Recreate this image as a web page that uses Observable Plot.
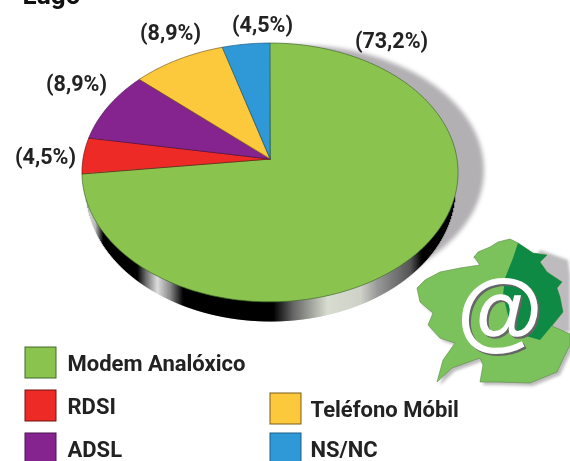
<!DOCTYPE html>
<html>
<head>
<meta charset="utf-8">
<script src="https://cdn.jsdelivr.net/npm/d3@7"></script>
<script src="https://cdn.jsdelivr.net/npm/@observablehq/plot@0.6"></script>
<style>
html,body{margin:0;padding:0;background:#fff;overflow:hidden}
svg{display:block}
</style>
</head>
<body>
<script>
const title = "Lugo";
const categories = ["Modem Analóxico", "RDSI", "ADSL", "Teléfono Móbil", "NS/NC"];
const values = [73.2, 4.5, 8.9, 8.9, 4.5];
const valueLabels = ["(73,2%)", "(4,5%)", "(8,9%)", "(8,9%)", "(4,5%)"];
const colors = ["#8bc34f", "#ee2a26", "#85248f", "#fcc83c", "#2f98d6"];
const edgeColors = ["#3f6a2a", "#6e1512", "#4d1254", "#7a5c1a", "#1d5d85"];

// layout
const labelX = [391, 45, 76, 170, 262];
const labelY = [41, 157, 84, 33, 25];
const legendX = [25, 25, 25, 270, 270];
const legendY = [347, 390, 433, 393, 433];
const boxSize = 31;

// pie geometry: circle seen in perspective, apex is the projected centre
const apex = [270, 159], sx = 187, sy = 128, persp = -0.104;
function project(X, Y) {
  const w = 1 + persp * Y;
  return [apex[0] + sx * X / w, apex[1] + sy * Y / w];
}
let start = 0;
const slicePts = [];
values.forEach((v, i) => {
  const a0 = start, a1 = start + v / d3.sum(values) * 2 * Math.PI;
  start = a1;
  const n = Math.max(6, Math.ceil((a1 - a0) * 60));
  for (let k = 0; k <= n; k++) {
    const a = a0 + (a1 - a0) * k / n;
    const [px, py] = project(Math.sin(a), -Math.cos(a));
    slicePts.push({s: i, px, py, x0: apex[0], y0: apex[1]});
  }
});

function ellipse(cx, cy, rx, ry) {
  return d3.range(0, 361, 3).map(d => {
    const a = d * Math.PI / 180;
    return {px: cx + rx * Math.cos(a), py: cy + ry * Math.sin(a), x0: cx, y0: cy};
  });
}
const pieShadow = ellipse(296, 170, 188, 125);

// shiny rim under the pie
const rimX = [82, 90, 95, 103, 137, 145, 157, 170, 183, 273, 293, 327, 360, 377, 410, 422, 458];
const rimC = ["#777", "#ccc", "#bbb", "#000", "#000", "#666", "#ddd", "#888", "#000", "#000", "#666", "#d8dcd0", "#cfd2c8", "#999", "#555", "#000", "#000"];
const rimColor = d3.scaleLinear().domain(rimX).range(rimC);
const rim = d3.range(84, 457, 1).map(x => {
  const top = 172.5 + 129.5 * Math.sqrt(Math.max(0, 1 - ((x - 270) / 188) ** 2));
  const bot = 188 + 133 * Math.sqrt(Math.max(0, 1 - ((x - 270) / 185) ** 2));
  return {x, top: top - 3, bot};
}).filter(d => d.bot > d.top);

// decorative map of Galicia
const mapLand = [[474,257],[478,252],[490,247],[498,242],[510,239],[518,243],[533,253],[547,255],[540,262],[547,272],[562,282],[557,288],[560,297],[563,312],[552,326],[570,334],[570,345],[565,355],[557,372],[530,383],[497,382],[480,382],[483,365],[480,358],[452,368],[437,382],[443,360],[455,343],[440,338],[428,325],[433,313],[420,302],[417,288],[425,280],[440,272],[460,268],[480,265]];
const mapDark = [[518,243],[533,253],[547,255],[540,262],[547,272],[562,282],[557,288],[560,297],[563,312],[550,328],[540,340],[512,332],[503,295],[505,278],[513,258]];
const mapShadow = [[540,250],[568,260],[570,275],[570,332],[540,335],[530,300],[535,260]];
const toPts = (a, d = 0) => a.map(([px, py]) => ({px: px + d, py: py + d, x0: a[0][0] + d, y0: a[0][1] + d}));

const legend = categories.map((name, i) => ({name, color: colors[i], edge: edgeColors[i], x: legendX[i], y: legendY[i]}));
const labels = valueLabels.map((t, i) => ({t, x: labelX[i], y: labelY[i]}));
const font = "Roboto, sans-serif";
const atFont = "'Liberation Sans', sans-serif";
const poly = (pts, options) =>
  Plot.area(pts, {x1: d => d.px, y1: d => d.py, x2: d => d.x0, y2: d => d.y0, ...options});
const soft = "blur(0.35px)";

const plot = Plot.plot({
  width: 570, height: 461, margin: 0,
  x: {domain: [0, 570], range: [0, 570], axis: null},
  y: {domain: [0, 461], range: [0, 461], axis: null},
  color: {type: "identity"},
  style: {background: "#fff", overflow: "hidden"},
  marks: [
    poly(pieShadow, {fill: "#b3b0b3", imageFilter: "blur(2px)"}),
    poly(toPts(mapShadow), {fill: "#bdbbbd", imageFilter: "blur(1.5px)"}),
    poly(toPts(mapLand, 3), {fill: "#bdbbbd", imageFilter: "blur(1.5px)"}),
    Plot.link(rim, {x1: "x", x2: "x", y1: "top", y2: "bot", stroke: d => rimColor(d.x), strokeWidth: 1.4}),
    poly(slicePts, {z: d => d.s, fill: d => colors[d.s], stroke: d => edgeColors[d.s], strokeWidth: 0.7}),
    poly(toPts(mapLand), {fill: "#7cc25c", stroke: "#5b8a48", strokeWidth: 0.6}),
    poly(toPts(mapDark), {fill: "#0f8a45"}),
    Plot.text(["@"], {x: () => 500, y: () => 314, text: d => d, fontSize: 88, fontWeight: 700, fontStyle: "italic", fontFamily: atFont, fill: "#666"}),
    Plot.text(["@"], {x: () => 498, y: () => 312, text: d => d, fontSize: 88, fontWeight: 700, fontStyle: "italic", fontFamily: atFont, fill: "#fff"}),
    Plot.text(labels, {x: "x", y: "y", text: "t", fontSize: 21.5, fontWeight: 700, fontFamily: font, fill: "#222", imageFilter: soft}),
    Plot.text([title], {x: () => 22, y: () => -5, text: d => d, textAnchor: "start", fontSize: 26, fontWeight: 700, fontFamily: font, fill: "#111", imageFilter: soft}),
    Plot.rect(legend, {x1: "x", x2: d => d.x + boxSize, y1: "y", y2: d => d.y + boxSize, fill: "color", stroke: "edge", strokeWidth: 1}),
    Plot.text(legend, {x: d => d.x + (d.x > 100 ? 40 : 42), y: d => d.y + 16, text: "name", textAnchor: "start", fontSize: 22, fontWeight: 700, fontFamily: font, fill: "#222", imageFilter: soft})
  ]
});
document.body.appendChild(plot);
</script>
</body>
</html>
